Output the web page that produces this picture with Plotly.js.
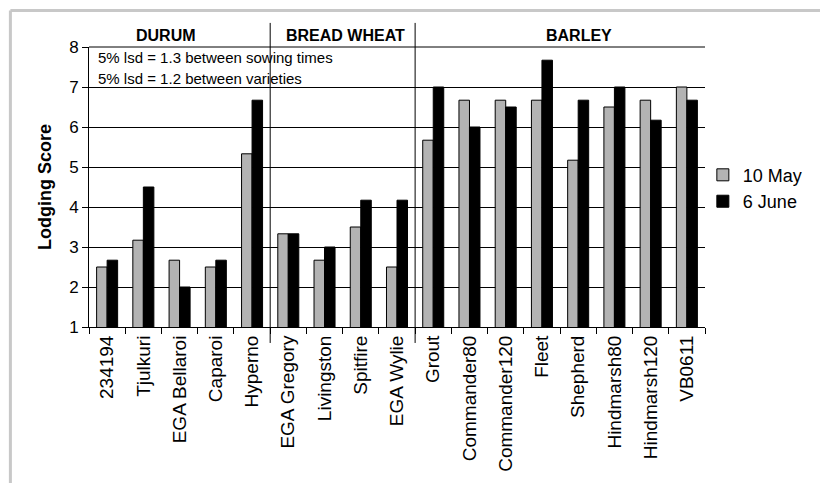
<!DOCTYPE html>
<html>
<head>
<meta charset="utf-8">
<script src="https://cdn.plot.ly/plotly-3.0.1.min.js"></script>
<style>
  html, body { margin: 0; padding: 0; background: #fff; overflow: hidden; }
  #chart { width: 820px; height: 483px; }
</style>
</head>
<body>
<div id="chart"></div>
<script>
const varieties = ['234194', 'Tjulkuri', 'EGA Bellaroi', 'Caparoi', 'Hyperno',
  'EGA Gregory', 'Livingston', 'Spitfire', 'EGA Wylie',
  'Grout', 'Commander80', 'Commander120', 'Fleet', 'Shepherd', 'Hindmarsh80', 'Hindmarsh120', 'VB0611'];
const may10 = [2.5, 3.17, 2.67, 2.5, 5.33, 3.33, 2.67, 3.5, 2.5, 5.67, 6.67, 6.67, 6.67, 5.17, 6.5, 6.67, 7.0];
const june6 = [2.67, 4.5, 2.0, 2.67, 6.67, 3.33, 3.0, 4.17, 4.17, 7.0, 6.0, 6.5, 7.67, 6.67, 7.0, 6.17, 6.67];
const groups = ['DURUM', 'BREAD WHEAT', 'BARLEY'];
const groupSizes = [5, 4, 8];
const seriesNames = ['10 May', '6 June'];
const lsdNotes = ['5% lsd = 1.3 between sowing times', '5% lsd = 1.2 between varieties'];

const FONT = 'Arial, "Liberation Sans", sans-serif';

const traces = [
  { type: 'bar', name: seriesNames[0], x: varieties, y: may10,
    marker: { color: '#b3b3b3', line: { color: '#000', width: 1 } } },
  { type: 'bar', name: seriesNames[1], x: varieties, y: june6,
    marker: { color: '#000000', line: { color: '#000', width: 1 } } }
];

const n = varieties.length;
const shapes = [];
// outer light frame (top and left edges)
shapes.push({ type: 'line', xref: 'paper', yref: 'paper', x0: -0.1276, x1: 1.2, y0: 1.1304, y1: 1.1304,
  line: { color: '#c8c8c8', width: 3 } });
shapes.push({ type: 'line', xref: 'paper', yref: 'paper', x0: -0.1276, x1: -0.1276, y0: 1.1304, y1: -0.6,
  line: { color: '#c8c8c8', width: 3 } });
// top line at y = 8
shapes.push({ type: 'line', xref: 'paper', yref: 'paper', x0: 0, x1: 1, y0: 1, y1: 1,
  line: { color: '#000', width: 1 } });
// group separators
let cum = 0;
groupSizes.forEach((s, i) => {
  cum += s;
  if (i < groupSizes.length - 1) {
    shapes.push({ type: 'line', xref: 'paper', yref: 'paper', x0: cum / n, x1: cum / n,
      y0: -0.057, y1: 1.086, line: { color: '#000', width: 1 } });
  }
});

const headerX = [1.63, 6.58, 13.02];
const annotations = groups.map((g, i) => ({
  text: '<b>' + g + '</b>', xref: 'x', yref: 'paper', x: headerX[i], y: 1.04,
  xanchor: 'center', yanchor: 'middle', showarrow: false,
  font: { family: FONT, size: 16, color: '#000' }
}));
lsdNotes.forEach((t, i) => annotations.push({
  text: t, xref: 'paper', yref: 'paper', x: 0.011, y: i === 0 ? 0.964 : 0.889,
  xanchor: 'left', yanchor: 'middle', showarrow: false,
  font: { family: FONT, size: 15, color: '#000' }
}));

const layout = {
  width: 820, height: 483,
  margin: { l: 89, r: 108, t: 47, b: 156 },
  paper_bgcolor: '#fff', plot_bgcolor: '#fff',
  font: { family: FONT, color: '#000' },
  barmode: 'group', bargap: 0.42, bargroupgap: 0,
  showlegend: true,
  legend: { x: 0.9965, xanchor: 'left', y: 0.496, yanchor: 'middle',
    font: { family: FONT, size: 18, color: '#000' }, bgcolor: 'rgba(0,0,0,0)', traceorder: 'normal' },
  xaxis: {
    type: 'category', tickangle: -90, tickson: 'boundaries', ticks: 'outside', ticklen: 6,
    tickcolor: '#000', showline: true, linecolor: '#000', linewidth: 1, showgrid: false,
    tickfont: { family: FONT, size: 19, color: '#000' }, automargin: false
  },
  yaxis: {
    range: [1, 8], dtick: 1, tick0: 1, ticks: 'outside', ticklen: 6, tickcolor: '#000',
    showline: true, linecolor: '#000', linewidth: 1, showgrid: true, gridcolor: '#000', gridwidth: 1,
    zeroline: false, tickfont: { family: FONT, size: 17, color: '#000' },
    title: { text: '<b>Lodging Score</b>', font: { family: FONT, size: 18, color: '#000' }, standoff: 12 },
    automargin: false
  },
  shapes: shapes,
  annotations: annotations
};

Plotly.newPlot('chart', traces, layout, { displayModeBar: false, staticPlot: true });
</script>
</body>
</html>
